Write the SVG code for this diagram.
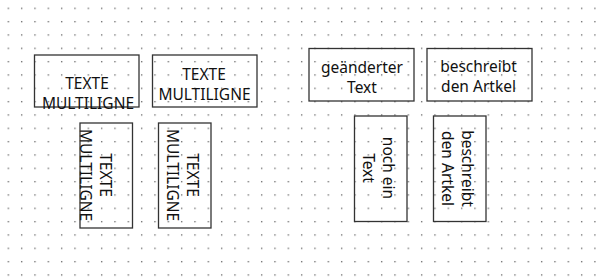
<svg xmlns="http://www.w3.org/2000/svg" width="596" height="279" viewBox="0 0 596 279">
<defs>
<pattern id="grid" x="0" y="0" width="13.333" height="13.333" patternUnits="userSpaceOnUse">
<rect x="7.8" y="7.8" width="1.1" height="1.1" fill="#222"/>
</pattern>
</defs>
<style>
.box{fill:none;stroke:#333;stroke-width:1.3}
.t{font-family:"Noto Sans","Open Sans",sans-serif;font-size:15.5px;fill:#111;text-anchor:middle}
</style>
<rect width="596" height="279" fill="#fff"/>
<rect width="596" height="279" fill="url(#grid)"/>
<g id="connectors"/>
<g id="n1">
<rect class="box" x="34.5" y="55" width="104.5" height="52"/>
<text class="t" x="87" y="89">TEXTE</text>
<text class="t" x="88" y="108.5">MULTILIGNE</text>
</g>
<g id="n2">
<rect class="box" x="152.5" y="55" width="104.5" height="52"/>
<text class="t" x="204" y="79.5">TEXTE</text>
<text class="t" x="204.5" y="99.5">MULTILIGNE</text>
</g>
<g id="n3">
<rect class="box" x="80" y="123" width="52.5" height="105"/>
<text class="t" transform="translate(99.5,175) rotate(90)">TEXTE</text>
<text class="t" transform="translate(80,175) rotate(90)">MULTILIGNE</text>
</g>
<g id="n4">
<rect class="box" x="158.5" y="123" width="52.5" height="105"/>
<text class="t" transform="translate(187,175) rotate(90)">TEXTE</text>
<text class="t" transform="translate(167,175) rotate(90)">MULTILIGNE</text>
</g>
<g id="n5">
<rect class="box" x="309" y="48.5" width="105" height="52.5"/>
<text class="t" x="362" y="72.7">geänderter</text>
<text class="t" x="362" y="92.7">Text</text>
</g>
<g id="n6">
<rect class="box" x="427" y="48.5" width="105" height="52.5"/>
<text class="t" x="478.5" y="72">beschreibt</text>
<text class="t" x="478.5" y="92.3">den Artkel</text>
</g>
<g id="n7">
<rect class="box" x="354.5" y="116" width="52.5" height="105.5"/>
<text class="t" transform="translate(382.5,168) rotate(90)">noch ein</text>
<text class="t" transform="translate(363,168) rotate(90)">Text</text>
</g>
<g id="n8">
<rect class="box" x="433.5" y="116" width="52.5" height="105.5"/>
<text class="t" transform="translate(462,168.5) rotate(90)">beschreibt</text>
<text class="t" transform="translate(442,168.5) rotate(90)">den Artkel</text>
</g>
</svg>
